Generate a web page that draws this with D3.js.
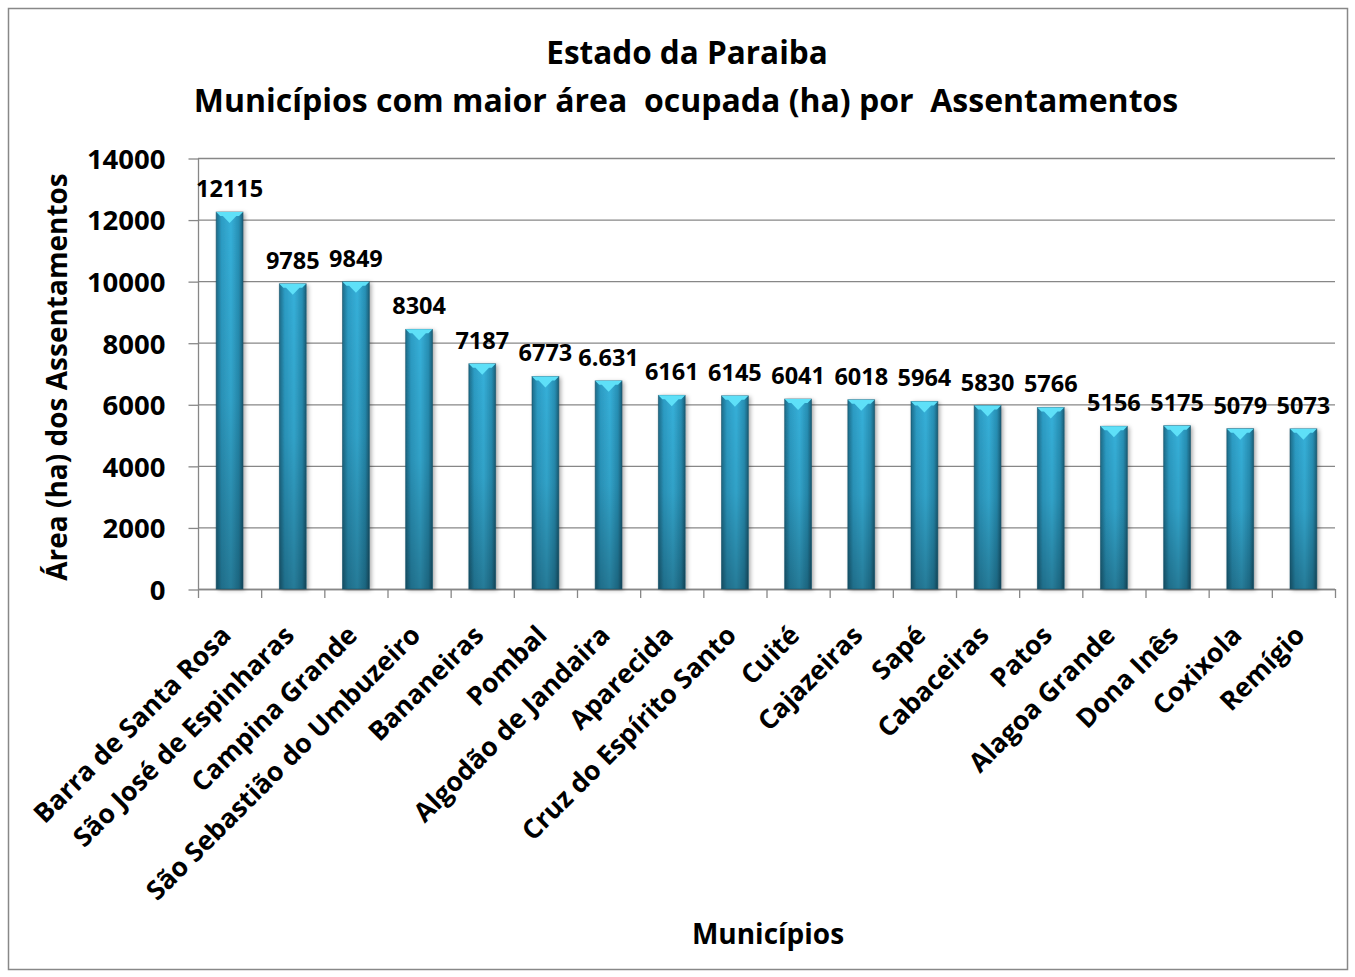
<!DOCTYPE html>
<html>
<head>
<meta charset="utf-8">
<script src="https://cdn.jsdelivr.net/npm/d3@7"></script>
<style>
  body { margin: 0; background: #fff; }
  text { font-family: "Open Sans", "DejaVu Sans", sans-serif; font-weight: 700; fill: #000; }
</style>
</head>
<body>
<svg id="chart"></svg>
<script>
// chart data
var municipios = ["Barra de Santa Rosa", "São José de Espinharas", "Campina Grande",
  "São Sebastião do Umbuzeiro", "Bananeiras", "Pombal", "Algodão de Jandaira", "Aparecida",
  "Cruz do Espírito Santo", "Cuité", "Cajazeiras", "Sapé", "Cabaceiras", "Patos",
  "Alagoa Grande", "Dona Inês", "Coxixola", "Remígio"];
var areas = [12115, 9785, 9849, 8304, 7187, 6773, 6631, 6161, 6145, 6041, 6018, 5964, 5830, 5766,
  5156, 5175, 5079, 5073];
var areaLabels = ["12115", "9785", "9849", "8304", "7187", "6773", "6.631", "6161", "6145", "6041",
  "6018", "5964", "5830", "5766", "5156", "5175", "5079", "5073"];
var yTicks = [0, 2000, 4000, 6000, 8000, 10000, 12000, 14000];

var W = 1355, H = 977;
var margin = {top: 158, left: 198, right: 20, bottom: 388};

var svg = d3.select("#chart").attr("width", W).attr("height", H);

var defs = svg.append("defs");
var grad = defs.append("linearGradient").attr("id", "barGrad")
  .attr("x1", "0").attr("x2", "1").attr("y1", "0").attr("y2", "0");
grad.append("stop").attr("offset", "0%").attr("stop-color", "#1d6b88");
grad.append("stop").attr("offset", "20%").attr("stop-color", "#2c9cc4");
grad.append("stop").attr("offset", "55%").attr("stop-color", "#36b0d9");
grad.append("stop").attr("offset", "85%").attr("stop-color", "#278fb4");
grad.append("stop").attr("offset", "100%").attr("stop-color", "#1a5e78");

var shade = defs.append("linearGradient").attr("id", "barShade")
  .attr("x1", "0").attr("x2", "0").attr("y1", "0").attr("y2", "1");
shade.append("stop").attr("offset", "0%").attr("stop-color", "#000").attr("stop-opacity", 0);
shade.append("stop").attr("offset", "50%").attr("stop-color", "#000").attr("stop-opacity", 0.08);
shade.append("stop").attr("offset", "100%").attr("stop-color", "#000").attr("stop-opacity", 0.3);

var shadow = defs.append("filter").attr("id", "shadow")
  .attr("x", "-30%").attr("y", "-10%").attr("width", "160%").attr("height", "120%");
shadow.append("feDropShadow").attr("dx", 2).attr("dy", 1).attr("stdDeviation", 2)
  .attr("flood-color", "#000").attr("flood-opacity", 0.35);

// outer frame
svg.append("rect")
  .attr("x", 8.5).attr("y", 8.5).attr("width", 1339).attr("height", 961)
  .attr("fill", "#fff").attr("stroke", "#888").attr("stroke-width", 1.5);

var plotW = 1335 - margin.left;

var x = d3.scaleBand().domain(municipios).range([margin.left, margin.left + plotW])
  .paddingInner(0.575).paddingOuter(0.2875);
var y = d3.scaleLinear().domain([0, 14000]).range([589, margin.top]);

// gridlines
svg.append("g").selectAll("line").data(yTicks).enter().append("line")
  .attr("x1", margin.left).attr("x2", margin.left + plotW)
  .attr("y1", function(d) { return y(d) + 0.5; })
  .attr("y2", function(d) { return y(d) + 0.5; })
  .attr("stroke", "#878787").attr("stroke-width", 1.3);

// y axis
var yAxis = d3.axisLeft(y).tickValues(yTicks).tickSize(10).tickPadding(23)
  .tickFormat(d3.format("d"));
var gY = svg.append("g").attr("transform", "translate(" + (margin.left + 0.5) + ",0.5)").call(yAxis);
gY.selectAll("line, path").attr("stroke", "#878787").attr("stroke-width", 1.3);
gY.select(".domain").attr("d", "M0," + margin.top + "V589");
gY.selectAll("text").attr("font-size", 27.5).attr("font-family", null).attr("fill", "#000")
  .attr("dy", "0.36em");

// x axis (ticks on band boundaries)
var bounds = d3.range(municipios.length + 1).map(function(i) { return margin.left + i * plotW / municipios.length; });
svg.append("line").attr("x1", margin.left).attr("x2", margin.left + plotW)
  .attr("y1", 589.5).attr("y2", 589.5).attr("stroke", "#878787").attr("stroke-width", 1.3);
svg.append("g").selectAll("line").data(bounds).enter().append("line")
  .attr("x1", function(d) { return d + 0.5; }).attr("x2", function(d) { return d + 0.5; })
  .attr("y1", 589).attr("y2", 598).attr("stroke", "#878787").attr("stroke-width", 1.3);

// bars
var bars = svg.append("g").selectAll("g.bar").data(areas).enter().append("g").attr("class", "bar");
bars.append("rect")
  .attr("x", function(d, i) { return x(municipios[i]); })
  .attr("y", function(d) { return y(d) - 4; })
  .attr("width", x.bandwidth())
  .attr("height", function(d) { return 589 - y(d) + 4; })
  .attr("fill", "url(#barGrad)")
  .attr("filter", "url(#shadow)");
bars.append("rect")
  .attr("x", function(d, i) { return x(municipios[i]); })
  .attr("y", function(d) { return y(d) - 4; })
  .attr("width", x.bandwidth())
  .attr("height", function(d) { return 589 - y(d) + 4; })
  .attr("fill", "url(#barShade)")
  .attr("stroke", "#17536a").attr("stroke-width", 0.8).attr("stroke-opacity", 0.7);
// light bevel cap on top
bars.append("path")
  .attr("d", function(d, i) {
    var x0 = x(municipios[i]), w = x.bandwidth(), t = y(d) - 4;
    return "M" + x0 + "," + t + "H" + (x0 + w) + "L" + (x0 + w - 4) + "," + (t + 4) +
      "H" + (x0 + w * 0.75) + "L" + (x0 + w / 2) + "," + (t + 11) +
      "L" + (x0 + w * 0.25) + "," + (t + 4) + "H" + (x0 + 4) + "Z";
  })
  .attr("fill", "#5ee0f8");

// value labels
svg.append("g").selectAll("text").data(areas).enter().append("text")
  .attr("x", function(d, i) { return x(municipios[i]) + x.bandwidth() / 2; })
  .attr("y", function(d) { return y(d) - 19; })
  .attr("text-anchor", "middle")
  .attr("font-size", 23.5)
  .text(function(d, i) { return areaLabels[i]; });

// category labels
svg.append("g").selectAll("text").data(municipios).enter().append("text")
  .attr("transform", function(d) {
    return "translate(" + (x(d) + x.bandwidth() / 2 + 3) + ",637) rotate(-45)";
  })
  .attr("text-anchor", "end")
  .attr("font-size", 26.5)
  .text(function(d) { return d; });

// titles
svg.append("text").attr("x", 687).attr("y", 64).attr("text-anchor", "middle")
  .attr("font-size", 31.5).text("Estado da Paraiba");
svg.append("text").attr("x", 686).attr("y", 112).attr("text-anchor", "middle")
  .attr("font-size", 32).attr("xml:space", "preserve")
  .text("Municípios com maior área  ocupada (ha) por  Assentamentos");

svg.append("text").attr("text-anchor", "middle")
  .attr("transform", "translate(67,377) rotate(-90)")
  .attr("font-size", 28).text("Área (ha) dos Assentamentos");

svg.append("text").attr("x", 768).attr("y", 944).attr("text-anchor", "middle")
  .attr("font-size", 28).text("Municípios");
</script>
</body>
</html>
